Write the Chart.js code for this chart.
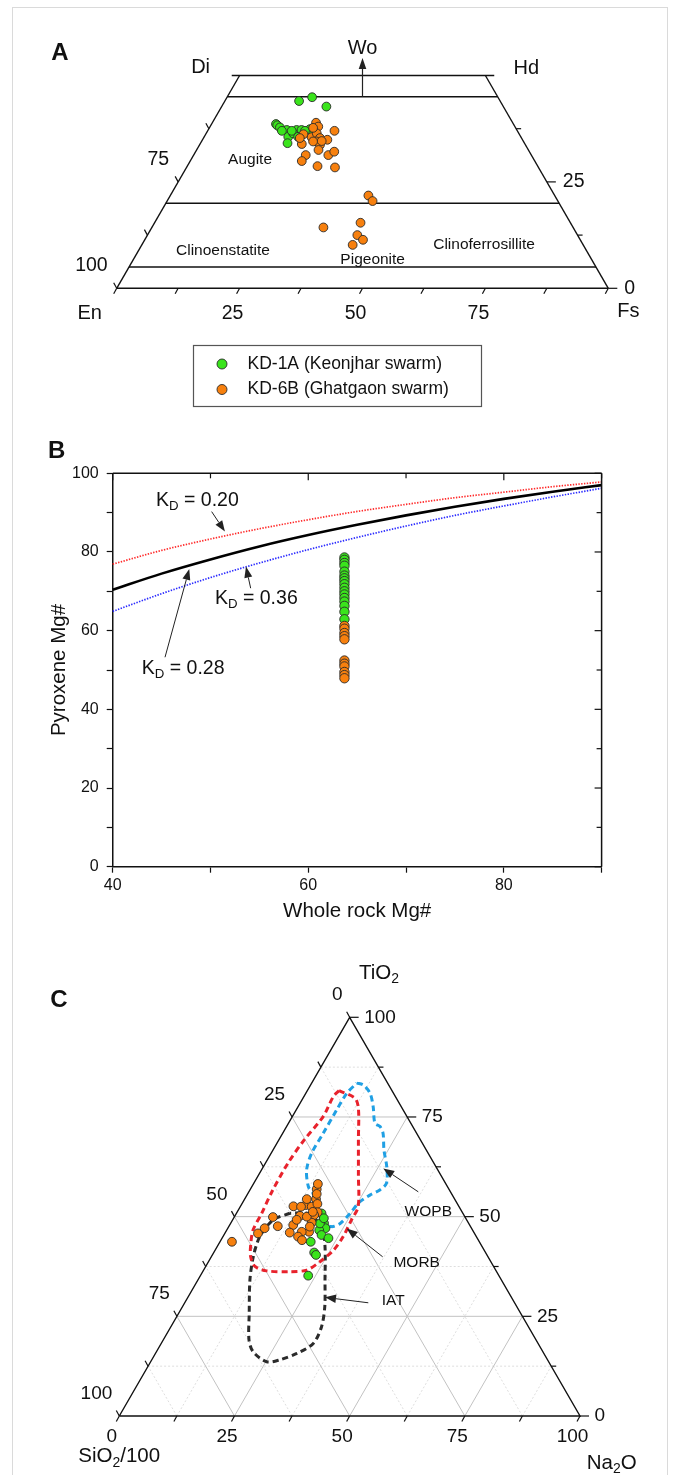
<!DOCTYPE html>
<html><head><meta charset="utf-8">
<script src="https://cdn.jsdelivr.net/npm/chart.js@4.4.1/dist/chart.umd.min.js"></script>
<style>
html,body{margin:0;padding:0;background:#fff;overflow:hidden;}
#page{position:relative;width:680px;height:1475px;overflow:hidden;background:#fff;}
#frame{position:absolute;left:12px;top:7px;width:654px;height:1490px;border:1px solid #dadada;}
canvas{position:absolute;left:0;}
</style></head><body>
<div id="page"><div id="frame"></div>
<canvas id="cA" width="680" height="420" style="top:0px"></canvas>
<canvas id="cB" width="680" height="510" style="top:420px"></canvas>
<canvas id="cC" width="680" height="545" style="top:930px"></canvas>
</div>
<script>
// ---------------- DATA ----------------
// Panel A: pyroxene quadrilateral, [Wo, En, Fs] in %
const pxKD1A = [
 [44.0,40.9,15.1],[44.9,37.8,17.3],[42.7,36.0,21.3],[38.6,48.3,13.1],[38.3,48.2,13.5],
 [37.8,47.9,14.3],[37.2,46.8,16.0],[35.6,47.3,17.1],[34.1,48.2,17.7],[37.2,44.8,18.0],
 [37.2,43.8,19.0],[36.4,45.9,17.7],[35.6,45.3,19.1],[37.4,42.0,20.6],[37.0,45.9,17.1],
 [37.0,47.9,15.1],[37.0,43.2,19.8]
];
const pxKD6B = [
 [38.9,40.0,21.1],[38.0,40.0,22.0],[37.0,37.2,25.8],[36.2,43.9,19.9],[35.5,42.6,21.9],
 [36.4,41.1,22.5],[35.3,41.0,23.7],[34.9,39.7,25.4],[33.9,45.4,20.7],[34.5,42.1,23.4],
 [33.7,41.8,24.5],[32.5,42.7,24.8],[31.3,45.9,22.8],[29.9,47.4,22.7],[31.3,41.3,27.4],
 [32.1,39.7,28.2],[28.7,44.8,26.5],[28.4,41.4,30.2],[35.3,45.1,19.6],[34.5,42.8,22.7],
 [34.6,41.0,24.4],[37.7,41.2,21.1],[21.8,37.9,40.3],[20.5,37.7,41.8],[14.3,50.8,34.9],
 [15.4,42.7,41.9],[12.5,44.8,42.7],[11.4,44.2,44.4],[10.2,46.9,42.9]
];
const quadTopWo = 50;
const quadBoundWo = [45, 20, 5];
const quadFsTicks = [0,12.5,25,37.5,50,62.5,75,87.5,100];
const quadWoTicks = [0,12.5,25,37.5];
const quadFsLabels = [25,50,75];
const quadEnLabels = [75,100];
const quadWoLabels = [25,0];
const quadFields = ['Augite','Clinoenstatite','Pigeonite','Clinoferrosillite'];
const seriesNames = ['KD-1A (Keonjhar swarm)','KD-6B (Ghatgaon swarm)'];

// Panel B
const wholeRockMg = [40,45,50,55,60,65,70,75,80,85,90];
const kd020 = [76.9,80.4,83.3,85.9,88.2,90.3,92.1,93.8,95.2,96.6,97.8];
const kd028 = [70.4,74.5,78.1,81.4,84.3,86.9,89.3,91.5,93.5,95.3,97.0];
const kd036 = [64.9,69.4,73.5,77.2,80.6,83.7,86.6,89.3,91.7,94.0,96.2];
const kdLabels = ['0.20','0.36','0.28'];
const sampleWholeRockMg = 63.7;
const pyxMgKD1A = [78.6,78.0,77.2,76.5,75.0,74.0,73.3,72.6,71.8,70.9,70.0,69.2,68.3,67.4,66.3,64.8,62.9];
const pyxMgKD6B = [61.2,60.5,59.4,58.6,57.8,52.4,51.6,50.9,49.5,48.7,47.9];
const bXTicks = [40,60,80];
const bYTicks = [0,20,40,60,80,100];

// Panel C: [SiO2/100, TiO2, Na2O] in %
const triKD1A = [
 [30.7,50.8,18.5],[31.4,48.3,20.3],[31.7,47.1,21.2],[33.3,46.6,20.1],[33.4,45.4,21.2],
 [32.3,44.6,23.1],[36.6,43.7,19.7],[37.2,41.0,21.8],[37.1,40.4,22.5],[41.4,35.2,23.4],
 [32.3,48.3,19.4],[30.8,49.6,19.6]
];
const triKD6B = [
 [53.7,43.7,2.6],[47.0,45.8,7.2],[44.9,47.1,8.0],[41.7,49.9,8.4],[41.8,47.6,10.6],
 [35.9,52.6,11.5],[35.7,50.2,14.1],[33.1,52.9,14.0],[32.1,54.4,13.5],[32.0,52.5,15.5],
 [28.7,56.9,14.4],[30.1,54.4,15.5],[30.4,53.2,16.4],[31.4,51.1,17.5],[32.5,50.4,17.1],
 [34.0,48.5,17.5],[35.7,46.2,18.1],[37.3,46.2,16.5],[38.3,47.9,13.8],[40.0,46.0,14.0],
 [38.7,45.0,16.3],[38.3,44.1,17.6],[34.3,50.0,15.7],[32.4,51.2,16.4],[34.9,47.5,17.6],
 [34.3,52.5,13.2],[36.9,49.2,13.9],[29.3,55.7,15.0],[27.8,58.2,14.0]
];
const fieldMORB = [
 [11.5,81.6,6.9],[9.0,79.7,11.3],[9.5,77.2,13.3],[13.5,69.2,17.3],[17.9,60.4,21.7],
 [21.9,52.5,25.6],[25.0,49.2,25.8],[28.9,45.0,26.1],[32.7,41.6,25.7],[37.1,38.7,24.2],
 [41.0,36.6,22.4],[44.9,36.2,18.9],[49.8,36.4,13.8],[51.8,37.5,10.7],[51.5,40.0,8.5],
 [49.8,43.3,6.9],[47.6,46.7,5.7],[43.7,50.8,5.5],[38.8,56.2,5.0],[31.7,63.4,4.9],
 [25.3,69.2,5.5],[18.2,75.1,6.7],[13.5,80.1,6.4]
];
const fieldWOPB = [
 [6.7,83.5,9.8],[5.5,83.0,11.5],[5.1,80.9,14.0],[6.1,77.6,16.3],[7.8,73.4,18.8],
 [7.1,72.6,20.3],[7.3,70.9,21.8],[9.2,66.7,24.1],[10.7,62.5,26.8],[12.8,58.4,28.8],
 [15.1,56.7,28.2],[17.9,55.4,26.7],[21.4,53.4,25.2],[24.5,50.8,24.7],[27.9,48.3,23.8],
 [30.2,47.5,22.3],[31.7,48.7,19.6],[30.0,55.9,14.1],[30.2,57.5,12.3],[28.5,61.7,9.8],
 [25.3,65.9,8.8],[20.3,70.9,8.8],[14.4,76.8,8.8],[10.2,80.9,8.9]
];
const fieldIAT = [
 [37.5,50.8,11.6],[42.0,49.2,8.8],[47.0,45.0,8.0],[50.9,40.0,9.1],[54.6,34.1,11.3],
 [58.9,25.8,15.3],[62.3,19.1,18.6],[62.9,16.1,21.0],[61.2,13.6,25.2],[58.1,14.1,27.8],
 [53.6,15.7,30.7],[48.8,18.2,33.0],[44.9,22.4,32.7],[41.7,27.4,30.9],[38.3,34.1,27.6],
 [34.1,42.5,23.4],[32.4,47.2,20.4],[33.7,50.7,15.6]
];
const fieldNames = ['WOPB','MORB','IAT'];
const triTicks = [0,12.5,25,37.5,50,62.5,75,87.5,100];
const triLabels = [0,25,50,75,100];

// ---------------- STYLE / HELPERS ----------------
const FONT = '"Liberation Sans", Arial, Helvetica, sans-serif';
const GREEN = '#3ae41c', ORANGE = '#f7800e', EDGE = '#2a2a2a', INK = '#111111';
const S3 = Math.sqrt(3)/2;
Chart.defaults.font.family = FONT;
Chart.defaults.color = INK;

const f = (s, b) => (b ? 'bold ' : '') + s + 'px ' + FONT;
function rich(ctx, parts, x, y, size, align) {
  let w = 0;
  parts.forEach(([t, sub]) => { ctx.font = f(sub ? size*0.68 : size); w += ctx.measureText(t).width; });
  let cx = align === 'center' ? x - w/2 : align === 'right' ? x - w : x;
  ctx.textAlign = 'left'; ctx.textBaseline = 'middle'; ctx.fillStyle = INK;
  parts.forEach(([t, sub]) => {
    ctx.font = f(sub ? size*0.68 : size);
    ctx.fillText(t, cx, sub ? y + size*0.3 : y);
    cx += ctx.measureText(t).width;
  });
}
function text(ctx, t, x, y, size, align, bold) {
  ctx.font = f(size, bold); ctx.fillStyle = INK; ctx.textAlign = align || 'center'; ctx.textBaseline = 'middle';
  ctx.fillText(t, x, y);
}
function arrow(ctx, x1, y1, x2, y2, head, hw, lw) {
  head = head || 10; hw = hw || 3.6;
  ctx.strokeStyle = '#222'; ctx.fillStyle = '#222'; ctx.lineWidth = lw || 1; ctx.setLineDash([]);
  const a = Math.atan2(y2 - y1, x2 - x1);
  const bx = x2 - head*Math.cos(a), by = y2 - head*Math.sin(a);
  ctx.beginPath(); ctx.moveTo(x1, y1); ctx.lineTo(bx, by); ctx.stroke();
  ctx.beginPath(); ctx.moveTo(x2, y2);
  ctx.lineTo(bx + hw*Math.sin(a), by - hw*Math.cos(a));
  ctx.lineTo(bx - hw*Math.sin(a), by + hw*Math.cos(a));
  ctx.closePath(); ctx.fill();
}
function seg(ctx, x1, y1, x2, y2) { ctx.beginPath(); ctx.moveTo(x1, y1); ctx.lineTo(x2, y2); ctx.stroke(); }
const lineDs = (data, o) => Object.assign({type:'scatter', data, showLine:true, pointRadius:0, pointHoverRadius:0,
  borderColor:INK, borderWidth:1.4, clip:false, order:5, fill:false}, o || {});
const ptDs = (label, data, color, r, order) => ({type:'scatter', label, data, backgroundColor:color, borderColor:EDGE,
  borderWidth:0.9, pointRadius:r, pointHoverRadius:r, order, clip:false});
const baseOpts = (padding) => ({responsive:false, animation:false, events:[],
  layout:{padding}, plugins:{legend:{display:false}, tooltip:{enabled:false}}});

// ---------------- PANEL A ----------------
const toA = ([wo, en, fs]) => { const s = wo + en + fs; return {x:(fs + wo/2)/s*100, y:wo/s*100*S3}; };
const woY = wo => wo*S3;
const boundSeg = wo => [{x:wo/2, y:woY(wo)}, {x:100 - wo/2, y:woY(wo)}];
const plugA = {
  id:'plugA',
  afterDraw(chart) {
    const {ctx, scales:{x, y}} = chart;
    const P = (a, b) => [x.getPixelForValue(a), y.getPixelForValue(b)];
    ctx.save();
    ctx.strokeStyle = INK; ctx.lineWidth = 1.2;
    quadFsTicks.forEach(v => { const [px, py] = P(v, 0); seg(ctx, px, py, px - 3, py + 5.5); });
    quadWoTicks.forEach(w => { const [px, py] = P(w/2, woY(w)); seg(ctx, px, py, px - 3, py - 5.5); });
    quadWoTicks.forEach(w => { const [px, py] = P(100 - w/2, woY(w)); seg(ctx, px, py, px + (w % 25 === 0 ? 9 : 5), py); });
    quadFsLabels.forEach(v => { const [px, py] = P(v, 0); text(ctx, String(v), px - 7, py + 25, 19.5); });
    quadEnLabels.forEach(e => { const w = 100 - e; const [px, py] = P(w/2, woY(w)); text(ctx, String(e), px - 9, py - 22.5, 19.5, 'right'); });
    quadWoLabels.forEach(w => { const [px, py] = P(100 - w/2, woY(w)); text(ctx, String(w), px + 16, py, 19.5, 'left'); });
    let p;
    p = P(0, 0); text(ctx, 'En', p[0] - 27, p[1] + 25, 20);
    p = P(100, 0); text(ctx, 'Fs', p[0] + 20, p[1] + 23.5, 20);
    p = P(quadTopWo/2, woY(quadTopWo)); text(ctx, 'Di', p[0] - 39, p[1] - 8, 20);
    p = P(100 - quadTopWo/2, woY(quadTopWo)); text(ctx, 'Hd', p[0] + 41, p[1] - 7, 20);
    const a0 = P(50, woY(quadBoundWo[0])), a1 = P(50, woY(quadTopWo));
    arrow(ctx, a0[0], a0[1], a1[0], a1[1] - 17.5, 11, 3.8, 1.2);
    text(ctx, 'Wo', a1[0], a1[1] - 27, 20);
    const fp = [[27.12,26.24],[21.62,7.65],[52.07,5.76],[74.72,8.81]];
    quadFields.forEach((n, i) => { const q = P(fp[i][0], fp[i][1]); text(ctx, n, q[0], q[1], 15.5); });
    text(ctx, 'A', 60, 53, 24, 'center', true);
    // legend
    ctx.strokeStyle = '#555'; ctx.lineWidth = 1.2;
    ctx.strokeRect(193.5, 345.5, 288, 61);
    const items = [[seriesNames[0], GREEN], [seriesNames[1], ORANGE]];
    items.forEach(([n, c], i) => {
      const yy = 364 + i*25.5;
      ctx.beginPath(); ctx.arc(222, yy, 5, 0, Math.PI*2); ctx.fillStyle = c; ctx.fill();
      ctx.strokeStyle = EDGE; ctx.lineWidth = 0.9; ctx.stroke();
      text(ctx, n, 247.5, yy, 17.5, 'left');
    });
    ctx.restore();
  }
};
const dsA = [
  ptDs(seriesNames[1], pxKD6B.map(toA), ORANGE, 4.4, 0),
  ptDs(seriesNames[0], pxKD1A.map(toA), GREEN, 4.4, 1),
  lineDs([{x:0, y:0}, {x:100, y:0}]),
  lineDs([{x:0, y:0}, {x:quadTopWo/2, y:woY(quadTopWo)}]),
  lineDs([{x:100, y:0}, {x:100 - quadTopWo/2, y:woY(quadTopWo)}]),
  lineDs([{x:quadTopWo/2 - 1.6, y:woY(quadTopWo)}, {x:100 - quadTopWo/2 + 1.8, y:woY(quadTopWo)}]),
  ...quadBoundWo.map(w => lineDs(boundSeg(w)))
];
new Chart(document.getElementById('cA'), {
  type:'scatter', data:{datasets:dsA},
  options:Object.assign(baseOpts({left:116.7, right:71.7, top:75.5, bottom:131.7}), {
    scales:{x:{type:'linear', min:0, max:100, display:false}, y:{type:'linear', min:0, max:quadTopWo*S3, display:false}}
  }),
  plugins:[plugA]
});

// ---------------- PANEL B ----------------
const kdNotes = [
  {lx:44.43, ly:93.06, t0:[50.12,90.26], t1:[51.48,85.18]},
  {lx:50.46, ly:68.24, t0:[54.11,70.79], t1:[53.63,76.28]},
  {lx:42.97, ly:50.44, t0:[45.35,53.24], t1:[47.83,75.69]}
];
const plugB = {
  id:'plugB',
  afterDraw(chart) {
    const {ctx, chartArea:ca, scales:{x, y}} = chart;
    ctx.save();
    ctx.strokeStyle = INK; ctx.lineWidth = 1.5;
    seg(ctx, ca.left, ca.top, ca.right, ca.top);
    seg(ctx, ca.right, ca.top, ca.right, ca.bottom);
    ctx.lineWidth = 1.2;
    x.ticks.forEach(t => { const px = x.getPixelForValue(t.value); seg(ctx, px, ca.top, px, ca.top + (bXTicks.includes(t.value) ? 7 : 5)); });
    y.ticks.forEach(t => { const py = y.getPixelForValue(t.value); seg(ctx, ca.right, py, ca.right - (bYTicks.includes(t.value) ? 7 : 5), py); });
    text(ctx, 'B', 56.7, 31.7, 24, 'center', true);
    kdNotes.forEach((n, i) => {
      rich(ctx, [['K', 0], ['D', 1], [' = ' + kdLabels[i], 0]], x.getPixelForValue(n.lx), y.getPixelForValue(n.ly), 19.5, 'left');
      arrow(ctx, x.getPixelForValue(n.t0[0]), y.getPixelForValue(n.t0[1]), x.getPixelForValue(n.t1[0]), y.getPixelForValue(n.t1[1]), 11, 4, 1);
    });
    ctx.restore();
  }
};
const curve = (vals, o) => lineDs(wholeRockMg.map((v, i) => ({x:v, y:vals[i]})), Object.assign({cubicInterpolationMode:'monotone'}, o));
new Chart(document.getElementById('cB'), {
  type:'scatter',
  data:{datasets:[
    ptDs(seriesNames[1], pyxMgKD6B.map(v => ({x:sampleWholeRockMg, y:v})), ORANGE, 4.7, 0),
    ptDs(seriesNames[0], pyxMgKD1A.map(v => ({x:sampleWholeRockMg, y:v})), GREEN, 4.7, 1),
    curve(kd020, {borderColor:'#ff2b2b', borderWidth:1.7, borderDash:[1.4,1.4], order:4}),
    curve(kd036, {borderColor:'#2a2aff', borderWidth:1.7, borderDash:[1.4,1.4], order:4}),
    curve(kd028, {borderColor:'#000', borderWidth:2.6, order:3})
  ]},
  options:Object.assign(baseOpts({left:43, right:78.4, top:53.3, bottom:2.3}), {
    scales:{
      x:{type:'linear', min:40, max:90, position:'bottom',
        ticks:{stepSize:10, autoSkip:false, maxRotation:0, padding:3, font:{size:16}, color:INK,
          callback:v => bXTicks.includes(v) ? String(v) : ''},
        grid:{drawOnChartArea:false, drawTicks:true, tickLength:6, tickColor:INK, tickWidth:1.2},
        border:{display:true, color:INK, width:1.5},
        title:{display:true, text:'Whole rock Mg#', font:{size:20.5}, color:INK, padding:{top:4, bottom:4}},
        afterFit:s => { s.height = 61; }},
      y:{type:'linear', min:0, max:100, position:'left',
        ticks:{stepSize:10, autoSkip:false, padding:8, font:{size:16}, color:INK,
          callback:v => bYTicks.includes(v) ? String(v) : ''},
        grid:{drawOnChartArea:false, drawTicks:true, tickLength:6, tickColor:INK, tickWidth:1.2},
        border:{display:true, color:INK, width:1.5},
        title:{display:true, text:'Pyroxene Mg#', font:{size:20.5}, color:INK, padding:{top:4, bottom:4}},
        afterFit:s => { s.width = 69.7; }}
    }
  }),
  plugins:[plugB]
});

// ---------------- PANEL C ----------------
const toC = ([si, ti, na]) => { const s = si + ti + na; return {x:(na + ti/2)/s*100, y:ti/s*100*S3}; };
const closed = arr => arr.concat([arr[0]]).map(toC);
const fieldNotes = [
  {lab:[67.07,44.35], t0:[64.90,48.69], t1:[57.30,53.77]},
  {lab:[64.55,33.28], t0:[57.17,34.58], t1:[49.36,40.74]},
  {lab:[59.47,25.03], t0:[54.05,24.59], t1:[44.65,25.77]}
];
const plugC = {
  id:'plugC',
  beforeDatasetsDraw(chart) {
    const {ctx, scales:{x, y}} = chart;
    const L = (a, b) => { const p = toC(a), q = toC(b); seg(ctx, x.getPixelForValue(p.x), y.getPixelForValue(p.y), x.getPixelForValue(q.x), y.getPixelForValue(q.y)); };
    ctx.save();
    triTicks.filter(k => k > 0 && k < 100).forEach(k => {
      const major = k % 25 === 0;
      ctx.strokeStyle = major ? '#c2c2c2' : '#dedede'; ctx.lineWidth = 1;
      ctx.setLineDash(major ? [] : [2, 2]);
      L([100 - k, k, 0], [0, k, 100 - k]);
      L([100 - k, 0, k], [0, 100 - k, k]);
      L([k, 0, 100 - k], [k, 100 - k, 0]);
    });
    ctx.restore();
  },
  afterDraw(chart) {
    const {ctx, scales:{x, y}} = chart;
    const P = c => { const p = toC(c); return [x.getPixelForValue(p.x), y.getPixelForValue(p.y)]; };
    ctx.save();
    ctx.strokeStyle = INK; ctx.lineWidth = 1.2; ctx.setLineDash([]);
    triTicks.forEach(k => {
      let p = P([100 - k, 0, k]); seg(ctx, p[0], p[1], p[0] - 3, p[1] + 5.5);
      p = P([k, 100 - k, 0]); seg(ctx, p[0], p[1], p[0] - 3, p[1] - 5.5);
      p = P([0, k, 100 - k]); seg(ctx, p[0], p[1], p[0] + (k % 25 === 0 ? 9 : 5), p[1]);
    });
    triLabels.forEach(k => {
      let p = P([100 - k, 0, k]); text(ctx, String(k), p[0] - 7.5, p[1] + 21, 19);
      p = P([0, k, 100 - k]); text(ctx, String(k), p[0] + 14.5, p[1], 19, 'left');
      p = P([k, 100 - k, 0]); text(ctx, String(k), p[0] - 7, p[1] - 22.3, 19, 'right');
    });
    let p = P([0, 100, 0]); rich(ctx, [['TiO', 0], ['2', 1]], p[0] + 29.3, p[1] - 44, 20.5, 'center');
    p = P([100, 0, 0]); rich(ctx, [['SiO', 0], ['2', 1], ['/100', 0]], p[0] - 41, p[1] + 40.7, 20.5, 'left');
    p = P([0, 0, 100]); rich(ctx, [['Na', 0], ['2', 1], ['O', 0]], p[0] + 6.7, p[1] + 47.3, 20.5, 'left');
    text(ctx, 'C', 58.8, 70.7, 24, 'center', true);
    fieldNotes.forEach((n, i) => {
      text(ctx, fieldNames[i], x.getPixelForValue(n.lab[0]), y.getPixelForValue(n.lab[1]), 15.5);
      arrow(ctx, x.getPixelForValue(n.t0[0]), y.getPixelForValue(n.t0[1]), x.getPixelForValue(n.t1[0]), y.getPixelForValue(n.t1[1]), 11, 4.2, 1);
    });
    ctx.restore();
  }
};
const fieldDs = (arr, color) => lineDs(closed(arr), {borderColor:color, borderWidth:3, borderDash:[6,4], tension:0.3, order:3});
new Chart(document.getElementById('cC'), {
  type:'scatter',
  data:{datasets:[
    ptDs(seriesNames[1], triKD6B.map(toC), ORANGE, 4.4, 0),
    ptDs(seriesNames[0], triKD1A.map(toC), GREEN, 4.4, 1),
    fieldDs(fieldMORB, '#e8222c'),
    fieldDs(fieldWOPB, '#20a0e4'),
    fieldDs(fieldIAT, '#2b2b2b'),
    lineDs([toC([100,0,0]), toC([0,0,100]), toC([0,100,0]), toC([100,0,0])], {order:6})
  ]},
  options:Object.assign(baseOpts({left:119.3, right:100, top:87.3, bottom:59}), {
    scales:{x:{type:'linear', min:0, max:100, display:false}, y:{type:'linear', min:0, max:100*S3, display:false}}
  }),
  plugins:[plugC]
});
</script>
</body></html>
